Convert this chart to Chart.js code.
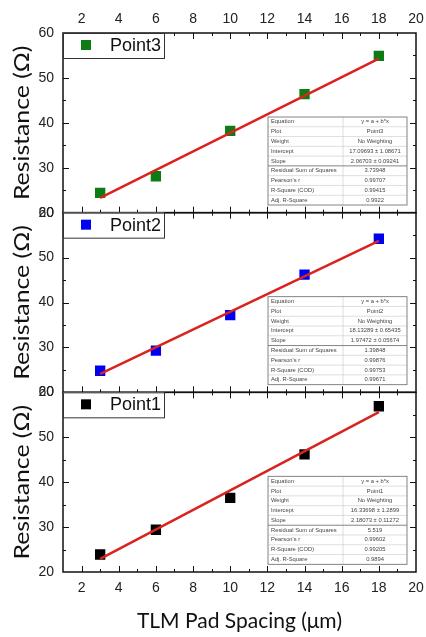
<!DOCTYPE html>
<html>
<head>
<meta charset="utf-8">
<script src="https://cdn.jsdelivr.net/npm/chart.js@4.4.1/dist/chart.umd.min.js"></script>
<style>
  html, body { margin: 0; padding: 0; background: #fff; }
  #wrap { width: 426px; height: 637px; }
</style>
</head>
<body>
<div id="wrap"><canvas id="tlm" width="426" height="637" style="width:426px;height:637px"></canvas></div>
<script>
// TLM resistance vs pad spacing, three stacked panels sharing one x axis

var spacing = [3, 6, 10, 14, 18];
var point3 = [24.4, 28.1, 38.2, 46.4, 54.9];
var point2 = [24.8, 29.3, 37.2, 46.2, 54.2];
var point1 = [23.9, 29.4, 36.5, 46.2, 56.9];

// fitted lines, read at both ends of the spacing range
var fitX = [3, 18];
var fit3 = [23.3, 54.3];
var fit2 = [24.1, 53.7];
var fit1 = [22.9, 55.6];

var xTickValues = [2, 4, 6, 8, 10, 12, 14, 16, 18, 20];
var yTickValues = [20, 30, 40, 50, 60];

var tableLabels = ['Equation', 'Plot', 'Weight', 'Intercept', 'Slope',
  'Residual Sum of Squares', "Pearson's r", 'R-Square (COD)', 'Adj. R-Square'];
var table3 = ['y = a + b*x', 'Point3', 'No Weighting', '17.09693 \u00b1 1.08671',
  '2.06703 \u00b1 0.09241', '3.73948', '0.99707', '0.99415', '0.9922'];
var table2 = ['y = a + b*x', 'Point2', 'No Weighting', '18.13289 \u00b1 0.65435',
  '1.97472 \u00b1 0.05674', '1.39848', '0.99876', '0.99753', '0.99671'];
var table1 = ['y = a + b*x', 'Point1', 'No Weighting', '16.33698 \u00b1 1.2899',
  '2.18073 \u00b1 0.11272', '5.519', '0.99602', '0.99205', '0.9894'];

var RED = '#d9231f';
var TICK_FONT = { family: "'Liberation Sans', Arial, sans-serif", size: 14 };
var TITLE_FAMILY = "Lato, 'Open Sans', sans-serif";

var panels = [
  { axis: 'yTop', name: 'Point3', color: '#0b7d12', pts: point3, fit: fit3, table: table3 },
  { axis: 'yMid', name: 'Point2', color: '#0000f0', pts: point2, fit: fit2, table: table2 },
  { axis: 'yBot', name: 'Point1', color: '#000000', pts: point1, fit: fit1, table: table1 }
];

function toXY(xs, ys) {
  return xs.map(function(x, i) { return { x: x, y: ys[i] }; });
}

function fixTicks(values) {
  return function(scale) {
    scale.ticks = values.map(function(v) { return { value: v }; });
  };
}

// x axes: fixed height and no extra side padding for the end labels
function fitXAxis(height) {
  return function(s) {
    s.height = height;
    s.paddingLeft = 0;
    s.paddingRight = 0;
  };
}

var datasets = [];
panels.forEach(function(p) {
  datasets.push({
    label: p.name + ' fit',
    data: toXY(fitX, p.fit),
    yAxisID: p.axis,
    showLine: true,
    borderColor: RED,
    borderWidth: 2.5,
    pointRadius: 0,
    order: 0
  });
  datasets.push({
    label: p.name,
    data: toXY(spacing, p.pts),
    yAxisID: p.axis,
    showLine: false,
    pointStyle: 'rect',
    pointRadius: 7.3,
    pointHoverRadius: 7.3,
    backgroundColor: p.color,
    borderColor: p.color,
    borderWidth: 0,
    order: 1
  });
});

function yScale() {
  return {
    type: 'linear',
    position: 'left',
    stack: 'tlm',
    stackWeight: 1,
    min: 20,
    max: 60,
    afterBuildTicks: fixTicks(yTickValues),
    afterFit: function(s) { s.width = 63; s.paddingTop = 0; s.paddingBottom = 0; },
    grid: { display: false, drawTicks: false },
    border: { display: false },
    ticks: { padding: 9, font: TICK_FONT, color: '#222' }
  };
}

var decor = {
  id: 'decor',
  afterDatasetsDraw: function(chart) {
    var ctx = chart.ctx;
    var xs = chart.scales.x;
    var area = chart.chartArea;
    ctx.save();
    panels.forEach(function(p) {
      var ys = chart.scales[p.axis];
      var top = ys.top, bottom = ys.bottom, left = area.left, right = area.right;

      // inward ticks on all four sides
      ctx.strokeStyle = '#111';
      ctx.lineWidth = 1;
      ctx.beginPath();
      for (var v = 2; v <= 19; v++) {
        var px = Math.round(xs.getPixelForValue(v)) + 0.5;
        var len = v % 2 === 0 ? 6 : 3;
        ctx.moveTo(px, bottom); ctx.lineTo(px, bottom - len);
        ctx.moveTo(px, top); ctx.lineTo(px, top + len);
      }
      for (var w = 25; w <= 55; w += 5) {
        var py = Math.round(ys.getPixelForValue(w)) + 0.5;
        var l2 = w % 10 === 0 ? 6 : 3;
        ctx.moveTo(left, py); ctx.lineTo(left + l2, py);
        ctx.moveTo(right, py); ctx.lineTo(right - l2, py);
      }
      ctx.stroke();

      ctx.lineWidth = 1.5;
      ctx.strokeRect(left, top, right - left, bottom - top);

      // y title, drawn a little stretched along its length like the original
      ctx.save();
      ctx.translate(22, (top + bottom) / 2);
      ctx.rotate(-Math.PI / 2);
      ctx.scale(1.18, 1);
      ctx.font = '21px ' + TITLE_FAMILY;
      ctx.fillStyle = '#111';
      ctx.textAlign = 'center';
      ctx.textBaseline = 'middle';
      ctx.fillText('Resistance (\u03a9)', 0, 0);
      ctx.restore();

      // legend box
      ctx.fillStyle = '#fff';
      ctx.fillRect(left, top, 101, 25);
      ctx.lineWidth = 1;
      ctx.strokeStyle = '#333';
      ctx.strokeRect(left + 0.5, top + 0.5, 101, 25);
      ctx.fillStyle = p.color;
      ctx.fillRect(left + 18, top + 7, 10, 10);
      ctx.fillStyle = '#111';
      ctx.font = "18px 'Liberation Sans', Arial, sans-serif";
      ctx.textBaseline = 'middle';
      ctx.textAlign = 'left';
      ctx.fillText(p.name, left + 47, top + 13);

      // fit statistics table
      var tx = right - 148, ty = top + 84, tw = 139, th = 88;
      var split = tx + 75;
      var rh = th / tableLabels.length;
      ctx.fillStyle = '#fff';
      ctx.fillRect(tx, ty, tw, th);
      ctx.strokeStyle = '#c8c8c8';
      ctx.lineWidth = 0.6;
      ctx.beginPath();
      for (var r = 1; r < tableLabels.length; r++) {
        if (r === 5) continue;
        ctx.moveTo(tx, ty + r * rh); ctx.lineTo(tx + tw, ty + r * rh);
      }
      ctx.moveTo(split, ty); ctx.lineTo(split, ty + th);
      ctx.stroke();
      ctx.strokeStyle = '#777';
      ctx.lineWidth = 0.9;
      ctx.beginPath();
      ctx.moveTo(tx, ty + 5 * rh); ctx.lineTo(tx + tw, ty + 5 * rh);
      ctx.stroke();
      ctx.strokeRect(tx, ty, tw, th);

      ctx.font = "5.8px 'Liberation Sans', Arial, sans-serif";
      ctx.fillStyle = '#444';
      for (var k = 0; k < tableLabels.length; k++) {
        var cy = ty + (k + 0.5) * rh;
        ctx.textAlign = 'left';
        ctx.fillText(tableLabels[k], tx + 3, cy);
        ctx.textAlign = 'center';
        ctx.fillText(p.table[k], (split + tx + tw) / 2, cy);
      }
    });
    ctx.restore();
  }
};

new Chart(document.getElementById('tlm'), {
  type: 'scatter',
  data: { datasets: datasets },
  options: {
    responsive: false,
    animation: false,
    layout: { padding: { left: 0, right: 10, top: 0, bottom: 0 } },
    plugins: { legend: { display: false }, tooltip: { enabled: false } },
    scales: {
      x: {
        type: 'linear',
        position: 'bottom',
        min: 1,
        max: 20,
        afterBuildTicks: fixTicks(xTickValues),
        afterFit: fitXAxis(65),
        grid: { display: false, drawTicks: false },
        border: { display: false },
        ticks: { padding: 8, font: TICK_FONT, color: '#222', maxRotation: 0 },
        title: { display: true, text: 'TLM Pad Spacing (\u03bcm)', font: { family: TITLE_FAMILY, size: 21 }, color: '#111', padding: { top: 0, bottom: 3 } }
      },
      xTop: {
        type: 'linear',
        position: 'top',
        min: 1,
        max: 20,
        afterBuildTicks: fixTicks(xTickValues),
        afterFit: fitXAxis(33),
        grid: { display: false, drawTicks: false },
        border: { display: false },
        ticks: { padding: 5, font: TICK_FONT, color: '#222', maxRotation: 0 }
      },
      yBot: yScale(),
      yMid: yScale(),
      yTop: yScale()
    }
  },
  plugins: [decor]
});
</script>
</body>
</html>
